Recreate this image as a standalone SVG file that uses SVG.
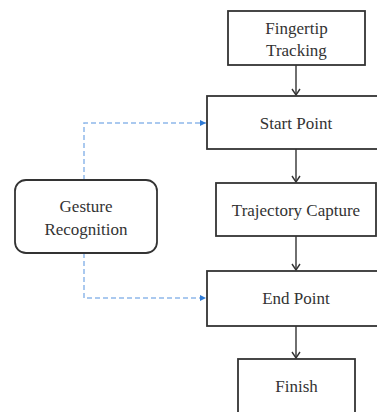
<svg xmlns="http://www.w3.org/2000/svg" width="377" height="412" viewBox="0 0 377 412">
<style>
.box{fill:#fff;stroke:#333;stroke-width:1.8}
.t{font-family:'Liberation Serif','DejaVu Serif',serif;font-size:17px;fill:#333;text-anchor:middle}
.c{fill:none;stroke:#333;stroke-width:1.4}
.d{fill:none;stroke:#8fb8ea;stroke-width:1.5;stroke-dasharray:5 3}
</style>
<defs>
<marker id="ah" markerWidth="10" markerHeight="10" refX="8" refY="5" orient="auto" markerUnits="userSpaceOnUse">
<path d="M2,1 L8,5 L2,9" fill="none" stroke="#333" stroke-width="1.4"/>
</marker>
<marker id="bh" markerWidth="8" markerHeight="8" refX="7" refY="4" orient="auto" markerUnits="userSpaceOnUse">
<path d="M1,1 L7,4 L1,7 Z" fill="#2f7bd6"/>
</marker>
</defs>
<g id="connectors">
<line class="c" x1="296" y1="65" x2="296" y2="95" marker-end="url(#ah)"/>
<line class="c" x1="296" y1="149" x2="296" y2="182" marker-end="url(#ah)"/>
<line class="c" x1="296" y1="236" x2="296" y2="270" marker-end="url(#ah)"/>
<line class="c" x1="296" y1="326" x2="296" y2="358" marker-end="url(#ah)"/>
<path class="d" d="M84,180 V123 H206" marker-end="url(#bh)"/>
<path class="d" d="M84,253 V298 H206" marker-end="url(#bh)"/>
</g>
<g id="fingertip">
<rect class="box" x="228" y="11" width="137" height="54"/>
<text class="t" x="296.5" y="34" font-family="Liberation Serif, serif">Fingertip</text>
<text class="t" x="296.5" y="56" font-family="Liberation Serif, serif">Tracking</text>
</g>
<g id="start">
<rect class="box" x="207" y="96" width="180" height="53"/>
<text class="t" x="296" y="129">Start Point</text>
</g>
<g id="trajectory">
<rect class="box" x="216" y="183" width="160" height="53"/>
<text class="t" x="296" y="216">Trajectory Capture</text>
</g>
<g id="end">
<rect class="box" x="207" y="271" width="180" height="55"/>
<text class="t" x="296" y="304">End Point</text>
</g>
<g id="finish">
<rect class="box" x="238" y="359" width="117" height="60"/>
<text class="t" x="296.5" y="392">Finish</text>
</g>
<g id="gesture">
<rect class="box" x="15" y="180" width="142" height="73" rx="11"/>
<text class="t" x="86" y="212">Gesture</text>
<text class="t" x="86" y="235">Recognition</text>
</g>
</svg>
